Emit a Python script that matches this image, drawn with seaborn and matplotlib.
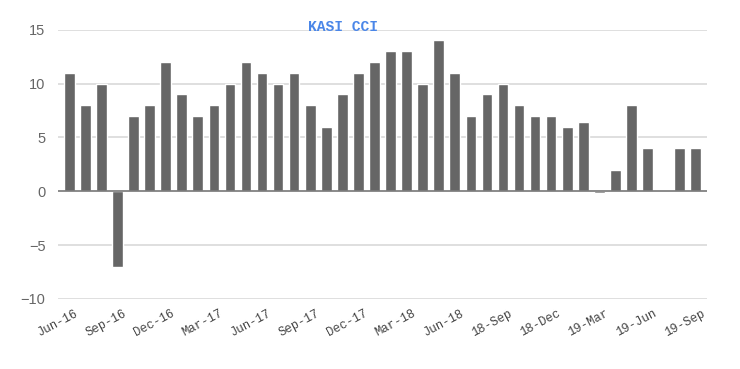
import matplotlib
matplotlib.use("Agg")
import matplotlib.pyplot as plt
import seaborn as sns
import pandas as pd

months = ["Jun-16","Jul-16","Aug-16","Sep-16","Oct-16","Nov-16","Dec-16","Jan-17","Feb-17","Mar-17",
          "Apr-17","May-17","Jun-17","Jul-17","Aug-17","Sep-17","Oct-17","Nov-17","Dec-17","Jan-18",
          "Feb-18","Mar-18","Apr-18","May-18","Jun-18","Jul-18","Aug-18","18-Sep","18-Oct","18-Nov",
          "18-Dec","19-Jan","19-Feb","19-Mar","19-Apr","19-May","19-Jun","19-Jul","19-Aug","19-Sep"]
cci = [11, 8, 10, -7, 7, 8, 12, 9, 7, 8,
       10, 12, 11, 10, 11, 8, 6, 9, 11, 12,
       13, 13, 10, 14, 11, 7, 9, 10, 8, 7,
       7, 6, 6.4, -0.2, 2, 8, 4, 0, 4, 4]
tick_labels = ["Jun-16","Sep-16","Dec-16","Mar-17","Jun-17","Sep-17","Dec-17","Mar-18","Jun-18",
               "18-Sep","18-Dec","19-Mar","19-Jun","19-Sep"]
title = "KASI CCI"

df = pd.DataFrame({"month": months, "cci": cci})

sns.set_theme(style="white")
fig = plt.figure(figsize=(7.4, 3.69), dpi=100)
ax = fig.add_axes([58/740, (369-299)/369, (707-58)/740, (299-29.7)/369])

sns.barplot(data=df, x="month", y="cci", color="#666666", width=0.66,
            saturation=1, ax=ax, zorder=3)

ax.set_ylim(-10, 15)
ax.set_yticks([-10, -5, 0, 5, 10, 15])
ax.set_xlim(-0.70, 39.70)
for v in [-10, -5, 5, 10, 15]:
    ax.axhline(v, color="#d9d9d9", lw=1.2, zorder=1)
ax.axhline(0, color="#777777", lw=1.2, zorder=4)

for s in ax.spines.values():
    s.set_visible(False)

pos = [months.index(t) + 0.35 for t in tick_labels]
ax.set_xticks(pos)
ax.set_xticklabels(tick_labels, rotation=28, ha="right", rotation_mode="anchor",
                   family="Liberation Mono", fontsize=8.8, color="#444444")
ax.tick_params(axis="x", length=0, pad=6)
ax.tick_params(axis="y", length=0, pad=9, labelsize=10.5, labelcolor="#666666")
for lab in ax.get_yticklabels():
    lab.set_family("Liberation Sans")
ax.set_xlabel("")
ax.set_ylabel("")

fig.text(343/740, 1 - 27/369, title, ha="center", va="center", family="Liberation Mono",
         fontsize=10.5, fontweight="bold", color="#4a86e8")

fig.savefig("out.png", dpi=100)
